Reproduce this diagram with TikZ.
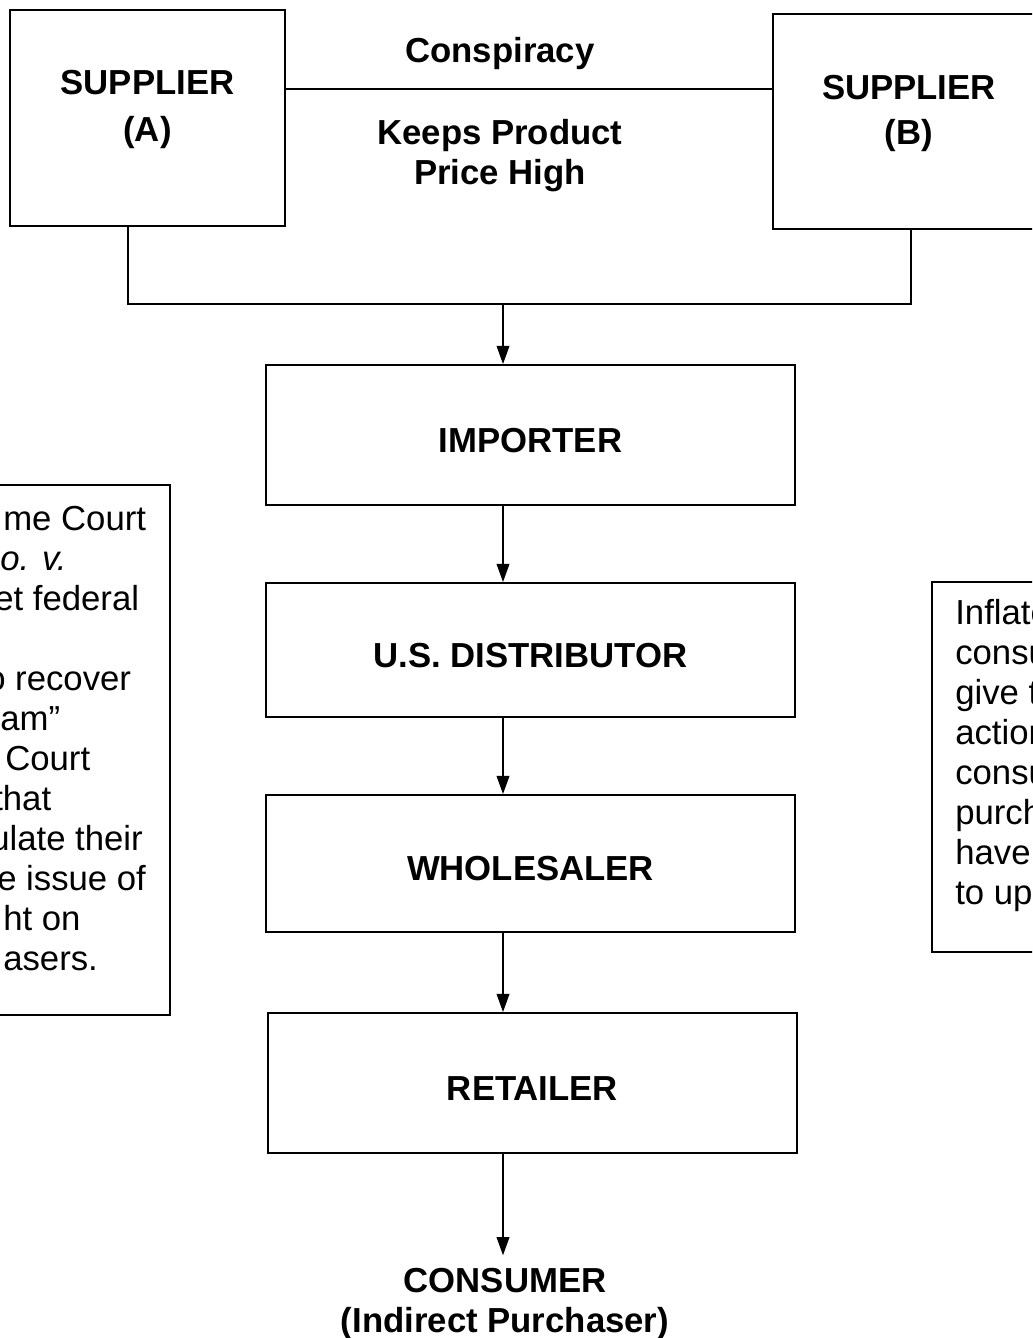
\documentclass[tikz,border=0pt]{standalone}
\usepackage{fontspec}
\setmainfont{Liberation Sans}
\usetikzlibrary{arrows.meta,positioning}

\newcommand\bigbold{\fontsize{24.7}{28.45}\selectfont\bfseries}
\tikzset{
  box/.style={draw, line width=1.3pt, inner sep=0pt},
  mainbox/.style={box, font=\bigbold, minimum width=13.225cm, text height=24.7pt, text depth=0pt},
  boldtext/.style={font=\bigbold, align=center, inner sep=0pt},
  sidetext/.style={font=\fontsize{24.7}{28.45}\selectfont, anchor=base west, inner sep=0pt},
  arr/.style={line width=1.3pt, -{Triangle[length=13pt,width=9pt]}}
}

\begin{document}
\begin{tikzpicture}[x=0.025cm,y=-0.025cm]
  \useasboundingbox (0,0) rectangle (1032,1338);
  \begin{scope}
    \clip (0,0) rectangle (1032,1338);

    \node[box, minimum width=6.875cm, minimum height=5.4cm] (supa) at (147.5,118) {};
    \node[box, minimum width=6.8cm, minimum height=5.375cm] (supb) at (909,121.5) {};
    \node[boldtext, font=\fontsize{24.7}{33}\selectfont\bfseries] (supatext) at ([yshift=6pt]supa.center) {SUPPLIER\\(A)};
    \node[boldtext, font=\fontsize{24.7}{32}\selectfont\bfseries] (supbtext) at ([yshift=6pt]supb.center) {SUPPLIER\\(B)};

    \coordinate (cl) at (0,89);
    \draw[line width=1.3pt] (supa.east |- cl) -- (supb.west |- cl);
    \node[boldtext] (consp) at (500,54) {Conspiracy};
    \node[boldtext] (keep) at (500,156) {Keeps Product\\Price High};

    \node[mainbox, minimum height=3.5cm] (imp) at (530.5,435) {IMPORTER};
    \node[mainbox, minimum height=3.35cm] (dist) at (530.5,650) {U.S. DISTRIBUTOR};
    \node[mainbox, minimum height=3.425cm] (whole) at (530.5,863.5) {WHOLESALER};
    \node[mainbox, minimum height=3.5cm] (ret) at (532.5,1083) {RETAILER};
    \node[boldtext, inner sep=9pt] (cons) at (505,1304) {CONSUMER\\(Indirect Purchaser)};

    \coordinate (joina) at (128,304);
    \coordinate (joinb) at (911,304);
    \coordinate (mid) at (503,304);
    \draw[line width=1.3pt] (supa.south -| joina) -- (joina) -- (joinb) -- (supb.south -| joinb);
    \draw[arr] (mid) -- (imp.north -| mid);
    \draw[arr] (imp.south -| mid) -- (dist.north -| mid);
    \draw[arr] (dist.south -| mid) -- (whole.north -| mid);
    \draw[arr] (whole.south -| mid) -- (ret.north -| mid);
    \draw[arr] (ret.south -| mid) -- (cons.north -| mid);

    \draw[line width=1.3pt] (-20,485) rectangle (170,1015);
    \foreach \y/\x/\txt [count=\i] in {530/3/me Court, 570/0/\textit{o. v.}, 610/-6/et federal,
        690/-14/o recover, 730/0/am'', 770/5/Court, 810/-7/that, 850/-10/ulate their,
        890/-3/e issue of, 930/3/ht on, 970/3/asers.}
      \node[sidetext] (left\i) at (\x,\y) {\txt};

    \draw[line width=1.3pt] (932,582) rectangle (1060,952);
    \foreach \txt [count=\i from 0] in {Inflate, consu, give t, action, consu, purch, have, to up}
      \node[sidetext] (right\i) at (955,624+40*\i) {\txt};
  \end{scope}
\end{tikzpicture}
\end{document}
